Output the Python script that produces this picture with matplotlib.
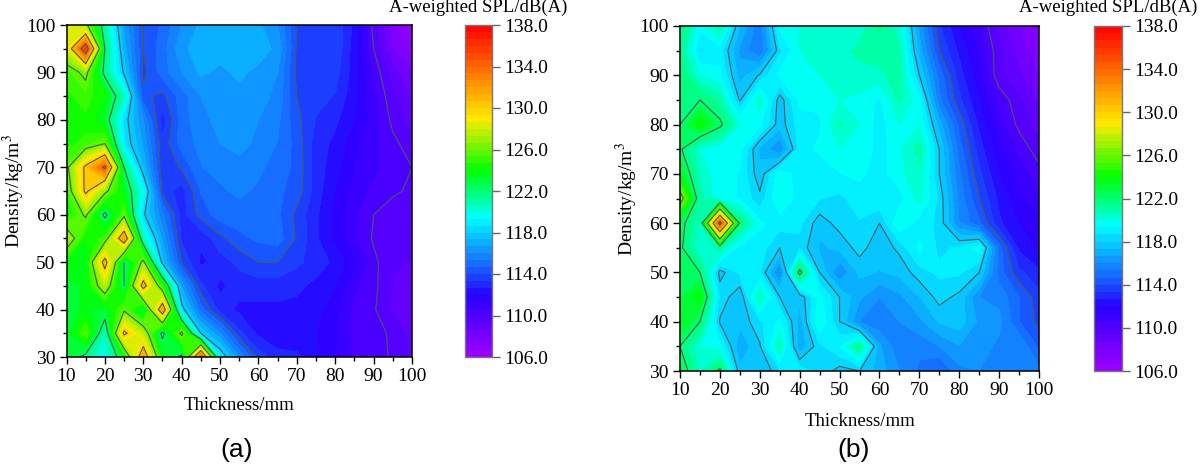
import matplotlib
matplotlib.use("Agg")
import matplotlib.pyplot as plt
import numpy as np
from matplotlib.colors import LinearSegmentedColormap
from matplotlib.ticker import FormatStrFormatter

plt.rcParams['font.family'] = ['Liberation Serif', 'DejaVu Serif']

thickness = [10, 15, 20, 25, 30, 35, 40, 45, 50, 55, 60, 65, 70, 75, 80, 85, 90, 95, 100]
density = [100, 95, 90, 85, 80, 75, 70, 65, 60, 55, 50, 45, 40, 35, 30]
cbar_ticks = [106, 110, 114, 118, 122, 126, 130, 134, 138]

# panel (a), rows run from density 100 down to 30
spl_a = [
    [128.5, 126.5, 121.0, 116.5, 114.0, 114.8, 116.0, 116.8, 117.2, 117.2, 116.8, 116.0, 114.0, 113.8, 113.8, 112.5, 109.7, 107.5, 106.2],
    [128.0, 136.0, 122.0, 117.0, 114.0, 115.0, 116.5, 117.0, 117.0, 117.3, 117.0, 116.5, 113.9, 114.0, 113.9, 112.3, 110.0, 108.0, 107.0],
    [125.0, 126.5, 121.5, 117.8, 113.8, 115.0, 116.0, 116.8, 116.5, 116.8, 116.5, 116.0, 113.8, 113.8, 113.6, 112.3, 110.5, 109.0, 108.0],
    [124.5, 125.0, 124.0, 120.5, 114.2, 113.8, 115.0, 116.0, 116.5, 116.5, 116.3, 115.8, 114.0, 113.5, 113.3, 112.2, 110.8, 109.5, 108.5],
    [124.5, 124.5, 123.0, 118.5, 116.0, 113.0, 115.0, 115.8, 116.2, 116.5, 116.0, 115.5, 114.2, 113.3, 112.8, 112.0, 111.0, 109.8, 109.0],
    [124.5, 124.8, 126.0, 118.8, 116.5, 113.5, 115.0, 115.5, 116.0, 116.3, 115.8, 115.3, 114.4, 113.0, 112.5, 111.5, 110.8, 110.2, 109.6],
    [125.5, 130.5, 134.5, 122.0, 117.3, 113.5, 114.1, 115.3, 115.6, 115.7, 115.5, 115.0, 114.5, 113.0, 112.3, 111.3, 110.8, 110.3, 110.0],
    [124.5, 130.5, 126.5, 123.5, 119.5, 113.8, 113.0, 114.7, 115.2, 115.5, 115.2, 114.8, 114.4, 113.0, 112.0, 111.0, 110.5, 110.1, 109.9],
    [124.0, 126.3, 121.5, 125.5, 118.2, 115.5, 113.0, 114.3, 115.0, 115.0, 114.7, 114.8, 113.8, 112.8, 111.8, 110.8, 110.0, 109.7, 109.6],
    [127.5, 124.0, 125.0, 132.0, 120.5, 116.5, 113.2, 112.8, 113.8, 114.5, 114.8, 115.0, 113.9, 112.8, 111.8, 110.8, 109.9, 109.5, 109.5],
    [124.0, 123.5, 131.0, 122.0, 126.5, 117.5, 114.0, 112.5, 113.0, 113.5, 114.0, 114.0, 113.5, 113.0, 112.5, 111.5, 110.2, 109.4, 109.3],
    [123.0, 123.5, 127.5, 122.0, 131.0, 124.5, 116.5, 113.5, 112.5, 113.0, 113.0, 113.0, 112.8, 112.5, 112.0, 110.8, 110.2, 109.3, 109.2],
    [123.0, 123.5, 123.0, 125.7, 122.5, 132.0, 118.5, 115.0, 113.0, 112.5, 112.5, 112.5, 112.5, 112.3, 111.5, 110.5, 110.1, 109.2, 109.1],
    [123.0, 125.5, 120.5, 130.5, 127.5, 121.5, 126.5, 118.0, 116.0, 113.5, 112.5, 112.0, 112.2, 112.0, 111.5, 110.3, 110.2, 109.9, 109.0],
    [123.0, 121.5, 119.5, 123.5, 132.0, 123.5, 121.5, 134.5, 119.0, 116.0, 113.7, 113.0, 112.8, 112.2, 111.3, 110.5, 110.3, 109.9, 109.2],
]

# panel (b), same row order
spl_b = [
    [122.0, 119.5, 121.0, 117.3, 115.5, 119.5, 120.0, 120.5, 120.0, 120.3, 121.5, 120.3, 116.5, 113.4, 112.0, 110.8, 109.0, 108.0, 107.3],
    [121.5, 118.6, 119.0, 116.5, 115.3, 118.5, 120.0, 120.2, 120.5, 120.8, 121.0, 120.8, 117.0, 114.0, 112.5, 111.2, 109.5, 108.3, 107.6],
    [122.0, 120.0, 119.5, 117.0, 118.1, 119.5, 120.0, 120.0, 120.5, 120.5, 120.5, 121.0, 118.0, 115.1, 113.0, 111.5, 109.5, 108.8, 108.0],
    [122.0, 122.0, 121.0, 117.9, 120.5, 117.6, 119.5, 119.5, 120.0, 119.8, 119.2, 120.8, 119.5, 115.5, 113.5, 112.0, 110.5, 109.5, 108.5],
    [122.0, 124.0, 122.3, 120.0, 119.5, 117.6, 119.0, 119.2, 120.8, 120.0, 119.0, 120.0, 120.0, 117.0, 114.5, 112.5, 111.0, 109.8, 109.0],
    [122.2, 120.0, 119.5, 119.5, 117.2, 116.0, 119.0, 119.5, 120.0, 120.0, 119.0, 119.8, 121.0, 118.0, 115.0, 113.0, 111.5, 110.5, 109.6],
    [123.5, 120.5, 119.5, 119.3, 117.5, 119.8, 119.0, 118.8, 119.3, 119.5, 119.0, 119.8, 120.5, 118.0, 115.5, 113.5, 112.0, 111.0, 110.3],
    [127.0, 121.0, 119.5, 119.3, 118.2, 120.0, 119.0, 118.7, 118.5, 119.0, 119.2, 119.0, 120.3, 118.5, 115.8, 114.0, 112.5, 111.5, 110.8],
    [122.5, 120.5, 135.0, 121.8, 119.5, 119.0, 118.8, 117.6, 118.3, 118.6, 118.0, 120.0, 119.0, 118.5, 116.0, 114.8, 112.8, 112.0, 111.5],
    [122.3, 120.0, 121.0, 119.0, 119.0, 118.0, 118.5, 117.2, 117.5, 118.3, 117.5, 118.2, 119.5, 118.5, 118.8, 119.7, 115.0, 112.5, 111.8],
    [122.5, 122.0, 117.7, 118.8, 118.8, 115.8, 122.5, 118.0, 116.0, 117.5, 117.3, 117.5, 118.4, 118.8, 118.8, 118.0, 115.0, 113.5, 112.8],
    [122.5, 124.0, 118.5, 117.4, 120.8, 118.0, 117.5, 119.5, 118.0, 116.8, 116.0, 116.5, 117.3, 118.3, 117.8, 116.0, 115.8, 114.7, 113.6],
    [123.5, 122.0, 117.9, 117.5, 118.5, 119.5, 117.0, 120.0, 118.0, 116.0, 115.5, 116.0, 116.5, 117.4, 117.7, 116.5, 116.2, 114.7, 113.8],
    [122.0, 120.0, 119.5, 116.8, 117.9, 120.8, 116.8, 118.5, 119.3, 121.5, 116.8, 115.5, 115.5, 116.0, 116.6, 116.4, 115.8, 116.0, 114.5],
    [123.0, 120.5, 122.3, 117.5, 117.3, 118.5, 119.0, 118.5, 117.7, 118.0, 117.0, 116.0, 115.2, 114.5, 115.8, 116.0, 116.0, 116.0, 115.5],
]

# rainbow
cmap = LinearSegmentedColormap.from_list("spl", [
    (0.0, (0.62, 0.0, 1.0)),
    (6.0 / 32, (0.15, 0.0, 1.0)),
    (8.0 / 32, (0.1, 0.3, 1.0)),
    (13.5 / 32, (0.0, 1.0, 1.0)),
    (18.0 / 32, (0.0, 1.0, 0.0)),
    (23.0 / 32, (1.0, 0.92, 0.0)),
    (1.0, (1.0, 0.0, 0.0)),
])
fill_levels = np.linspace(106, 138, 49)
line_levels = [110, 114, 118, 122, 126, 130, 134]

W, H = 1200.0, 467.0


def box(x0, y0, x1, y1):
    return [x0 / W, 1 - y1 / H, (x1 - x0) / W, (y1 - y0) / H]


def draw_panel(values, ax_box, cbar_box, xlabel_y, ylabel_x, letter, letter_x, title_x):
    ax = fig.add_axes(box(*ax_box))
    cs = ax.contourf(thickness, density, np.array(values), levels=fill_levels, cmap=cmap, vmin=106, vmax=138)
    ax.contour(thickness, density, np.array(values), levels=line_levels, colors="#4a5a5a", linewidths=0.8)
    ax.set_xlim(10, 100)
    ax.set_ylim(30, 100)
    ax.set_xticks(range(10, 101, 10))
    ax.set_yticks(range(30, 101, 10))
    ax.set_xticks(range(15, 100, 10), minor=True)
    ax.set_yticks(range(35, 100, 10), minor=True)
    ax.tick_params(which="major", length=5, width=1, labelsize=14, pad=3)
    ax.tick_params(which="minor", length=3, width=1)
    for s in ax.spines.values():
        s.set_linewidth(1.1)
    fig.text((ax_box[0] + ax_box[2]) / 2 / W, 1 - xlabel_y / H, "Thickness/mm", ha="center", va="center", fontsize=13.5)
    fig.text(ylabel_x / W, 1 - (ax_box[1] + ax_box[3]) / 2 / H, "Density/kg/m$^{3}$", rotation=90,
             ha="center", va="center", fontsize=14, math_fontfamily="stix")
    fig.text(letter_x / W, 1 - 450 / H, letter, ha="center", va="center", fontsize=19, family="Liberation Sans")

    cax = fig.add_axes(box(*cbar_box))
    cb = fig.colorbar(cs, cax=cax, ticks=cbar_ticks, format=FormatStrFormatter("%.1f"))
    cb.ax.tick_params(length=6, width=1, labelsize=14, pad=3, color="#666666")
    cb.ax.minorticks_off()
    cb.outline.set_edgecolor("#777777")
    cb.outline.set_linewidth(1)
    fig.text(title_x / W, 1 - 7 / H, "A-weighted SPL/dB(A)", ha="center", va="center", fontsize=13.5)


fig = plt.figure(figsize=(12, 4.67), dpi=100)
draw_panel(spl_a, (66.5, 25, 412, 357), (465, 25, 492, 357), 405, 14, "(a)", 237, 478)
draw_panel(spl_b, (680, 26, 1039, 371), (1094, 26, 1122, 371), 421, 627, "(b)", 854, 1108)
fig.savefig("out.png", dpi=100)
